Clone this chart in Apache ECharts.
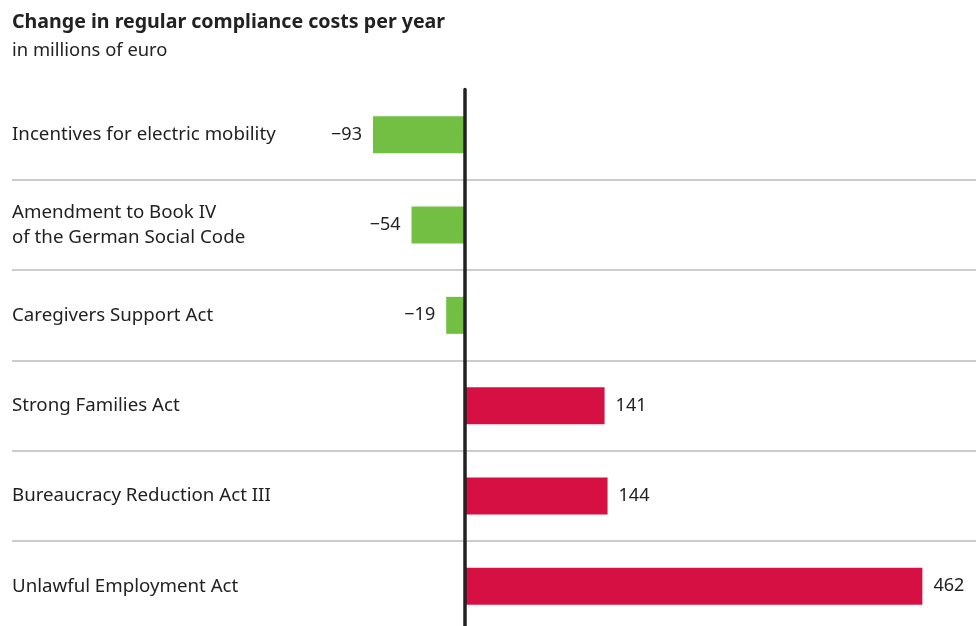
<!DOCTYPE html>
<html>
<head>
<meta charset="utf-8">
<script src="https://cdn.jsdelivr.net/npm/echarts@6/dist/echarts.min.js"></script>
<style>
html, body { margin: 0; padding: 0; background: #fff; }
#chart { width: 976px; height: 626px; }
</style>
</head>
<body>
<div id="chart"></div>
<script>
// 数据
var categories = [
    'Incentives for electric mobility',
    'Amendment to Book IV\nof the German Social Code',
    'Caregivers Support Act',
    'Strong Families Act',
    'Bureaucracy Reduction Act III',
    'Unlawful Employment Act'
];
var costChanges = [-93, -54, -19, 141, 144, 462];

var FONT = '"Noto Sans", sans-serif';
var GREEN = '#72bf44';
var RED = '#d71044';

var chart = echarts.init(document.getElementById('chart'));
chart.setOption({
    backgroundColor: '#fff',
    animation: false,
    title: {
        text: 'Change in regular compliance costs per year',
        subtext: 'in millions of euro',
        left: 12,
        top: 12,
        padding: 0,
        itemGap: 10,
        textStyle: {
            fontFamily: FONT,
            fontSize: 19.6,
            fontWeight: 'bold',
            color: '#222'
        },
        subtextStyle: {
            fontFamily: FONT,
            fontSize: 18.4,
            color: '#222'
        }
    },
    grid: [
        { left: 366, width: 594, top: 89.5, height: 542, outerBoundsMode: 'none' },
        { left: 12, right: 0, top: 89.5, height: 542, outerBoundsMode: 'none' }
    ],
    xAxis: [
        { gridIndex: 0, type: 'value', min: -100, max: 500, show: false },
        { gridIndex: 1, type: 'value', min: 0, max: 1, show: false }
    ],
    yAxis: [
        {
            gridIndex: 0,
            type: 'category',
            inverse: true,
            data: categories,
            z: 5,
            axisLine: { onZero: true, lineStyle: { color: '#222', width: 3.5 } },
            axisTick: { show: false },
            axisLabel: { show: false },
            splitLine: { show: false }
        },
        {
            gridIndex: 1,
            type: 'category',
            inverse: true,
            data: categories,
            axisLine: { show: false },
            axisTick: { show: false },
            axisLabel: {
                inside: true,
                margin: 0,
                align: 'left',
                fontFamily: FONT,
                fontSize: 18.7,
                lineHeight: 25,
                color: '#222'
            },
            splitLine: {
                show: true,
                interval: function (index) { return index > 0; },
                lineStyle: { color: '#cccccc', width: 2 }
            }
        }
    ],
    series: [
        {
            type: 'bar',
            xAxisIndex: 0,
            yAxisIndex: 0,
            barWidth: 37,
            data: costChanges.map(function (v) {
                return {
                    value: v,
                    itemStyle: { color: v < 0 ? GREEN : RED },
                    label: { position: v < 0 ? 'left' : 'right' }
                };
            }),
            label: {
                show: true,
                distance: 11,
                fontFamily: FONT,
                fontSize: 18,
                color: '#222',
                formatter: function (p) {
                    return String(p.value).replace('-', '\u2212');
                }
            }
        }
    ]
});
</script>
</body>
</html>
